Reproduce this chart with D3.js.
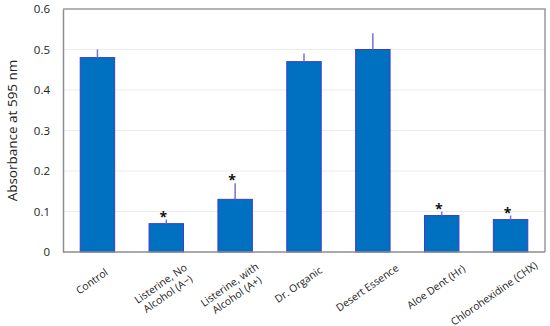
<!DOCTYPE html>
<html>
<head>
<meta charset="utf-8">
<script src="https://cdn.jsdelivr.net/npm/d3@7"></script>
<style>
  body { margin: 0; background: #fff; }
  svg { display: block; font-family: 'Open Sans', sans-serif; }
</style>
</head>
<body>
<div id="chart"></div>
<script>
const categories = [
  ['Control'],
  ['Listerine, No', 'Alcohol (A\u2212)'],
  ['Listerine, with', 'Alcohol (A+)'],
  ['Dr. Organic'],
  ['Desert Essence'],
  ['Aloe Dent (Hr)'],
  ['Chlorohexidine (CHX)'],
];
const values = [0.48, 0.07, 0.13, 0.47, 0.50, 0.09, 0.08];
const errors = [0.02, 0.01, 0.04, 0.02, 0.04, 0.01, 0.01];
const marks = ['', '*', '*', '', '', '*', '*'];
const yTicks = [0, 0.1, 0.2, 0.3, 0.4, 0.5, 0.6];

const width = 550;
const height = 326;
const margin = { top: 9, right: 5, bottom: 74, left: 63 };

const svg = d3.select('#chart').append('svg')
  .attr('width', width)
  .attr('height', height);

const x = d3.scaleBand()
  .domain(d3.range(categories.length))
  .range([margin.left, width - margin.right])
  .paddingInner(0.5)
  .paddingOuter(0.25);

const y = d3.scaleLinear()
  .domain([0, 0.6])
  .range([height - margin.bottom, margin.top]);

// gridlines
svg.append('g')
  .selectAll('line')
  .data(yTicks.filter(d => d > 0 && d < 0.6))
  .join('line')
  .attr('x1', margin.left)
  .attr('x2', width - margin.right)
  .attr('y1', d => y(d))
  .attr('y2', d => y(d))
  .attr('stroke', '#ececec')
  .attr('stroke-width', 1);

// y axis
const yAxis = svg.append('g')
  .attr('transform', `translate(${margin.left},0)`)
  .call(d3.axisLeft(y).tickValues(yTicks).tickSize(0).tickPadding(13)
    .tickFormat(d => d === 0 ? '0' : d3.format('.1f')(d)));
yAxis.select('.domain').attr('stroke', '#8c8c8c').attr('stroke-width', 1.5);
yAxis.selectAll('text')
  .attr('font-family', "'Open Sans', sans-serif")
  .attr('font-size', 11.5)
  .attr('fill', '#222');

// top and right border
svg.append('path')
  .attr('d', `M${margin.left},${margin.top}H${width - margin.right}V${height - margin.bottom}`)
  .attr('fill', 'none')
  .attr('stroke', '#9a9a9a')
  .attr('stroke-width', 1.5);

// bars
svg.append('g')
  .selectAll('rect')
  .data(values)
  .join('rect')
  .attr('x', (d, i) => x(i))
  .attr('y', d => y(d))
  .attr('width', x.bandwidth())
  .attr('height', d => y(0) - y(d))
  .attr('fill', '#0070c0')
  .attr('stroke', '#3b3bd0')
  .attr('stroke-width', 1);

// error bars (upper only)
svg.append('g')
  .selectAll('line')
  .data(values)
  .join('line')
  .attr('x1', (d, i) => x(i) + x.bandwidth() / 2)
  .attr('x2', (d, i) => x(i) + x.bandwidth() / 2)
  .attr('y1', d => y(d))
  .attr('y2', (d, i) => y(d + errors[i]))
  .attr('stroke', '#7272d8')
  .attr('stroke-width', 1.5);

// significance marks
svg.append('g')
  .selectAll('text')
  .data(values)
  .join('text')
  .attr('x', (d, i) => x(i) + x.bandwidth() / 2 - 3)
  .attr('y', (d, i) => y(d + errors[i]) + 2)
  .attr('text-anchor', 'middle')
  .attr('font-size', 14)
  .attr('font-weight', 'bold')
  .attr('fill', '#111')
  .text((d, i) => marks[i]);

// x axis
svg.append('line')
  .attr('x1', margin.left)
  .attr('x2', width - margin.right)
  .attr('y1', y(0))
  .attr('y2', y(0))
  .attr('stroke', '#8c8c8c')
  .attr('stroke-width', 1.5);

// rotated category labels: box centred under the bar, kept inside the chart
// (short labels sit a little lower than long ones, as in Excel)
const labelRight = width - 10;
const labelGroups = svg.append('g')
  .selectAll('g')
  .data(categories)
  .join('g');
const labels = labelGroups.append('text')
  .attr('transform', 'rotate(-35)')
  .attr('text-anchor', 'middle')
  .attr('font-size', 10.4)
  .attr('fill', '#222');
labels.selectAll('tspan')
  .data(d => d.map((t, k) => ({ t, k })))
  .join('tspan')
  .attr('x', 0)
  .attr('dy', p => p.k === 0 ? 0 : '1.2em')
  .text(p => p.t);
labelGroups.each(function (d, i) {
  const bb = this.getBBox();
  const top = Math.max(y(0) + 6, y(0) + 13 - 0.2 * (bb.height - 32));
  let cx = x(i) + x.bandwidth() / 2 - 3.5;
  if (cx + bb.x + bb.width > labelRight) cx = labelRight - bb.x - bb.width;
  d3.select(this).attr('transform', `translate(${cx},${top - bb.y})`);
});

// y title
svg.append('text')
  .attr('transform', `translate(17,${(margin.top + y(0)) / 2}) rotate(-90)`)
  .attr('text-anchor', 'middle')
  .attr('font-size', 13.5)
  .attr('fill', '#222')
  .text('Absorbance at 595 nm');
</script>
</body>
</html>
